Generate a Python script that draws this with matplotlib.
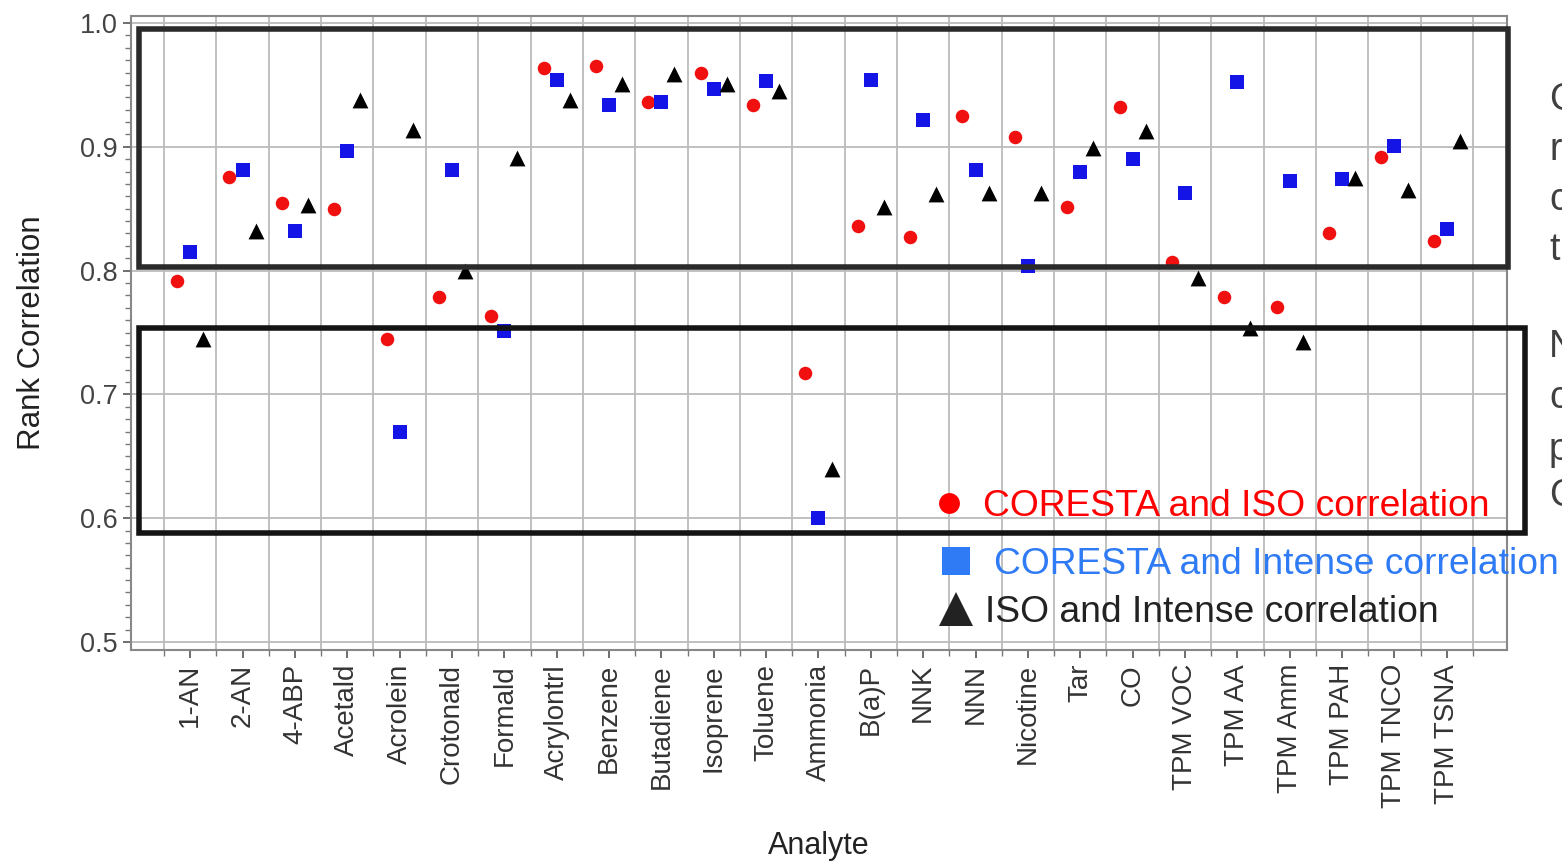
import matplotlib
matplotlib.use("Agg")
import matplotlib.pyplot as plt
from matplotlib.patches import Rectangle
from matplotlib.lines import Line2D
from matplotlib.ticker import MultipleLocator, FixedLocator
import numpy as np

plt.rcParams['font.family'] = ['Liberation Sans', 'DejaVu Sans']

analytes = ["1-AN", "2-AN", "4-ABP", "Acetald", "Acrolein", "Crotonald", "Formald",
            "Acrylontrl", "Benzene", "Butadiene", "Isoprene", "Toluene", "Ammonia",
            "B(a)P", "NNK", "NNN", "Nicotine", "Tar", "CO", "TPM VOC", "TPM AA",
            "TPM Amm", "TPM PAH", "TPM TNCO", "TPM TSNA"]

coresta_iso = [0.792, 0.876, 0.855, 0.850, 0.745, 0.779, 0.763, 0.964, 0.965, 0.936,
               0.960, 0.934, 0.717, 0.836, 0.827, 0.925, 0.908, 0.851, 0.932, 0.807,
               0.779, 0.771, 0.830, 0.892, 0.824]
coresta_intense = [0.815, 0.881, 0.832, 0.897, 0.670, 0.881, 0.751, 0.954, 0.934, 0.936,
                   0.947, 0.953, 0.600, 0.954, 0.922, 0.881, 0.804, 0.880, 0.890, 0.863,
                   0.952, 0.872, 0.874, 0.901, 0.834]
iso_intense = [0.745, 0.832, 0.853, 0.938, 0.914, 0.800, 0.891, 0.938, 0.951, 0.959,
               0.951, 0.945, 0.640, 0.851, 0.862, 0.863, 0.863, 0.899, 0.913, 0.794,
               0.754, 0.742, 0.875, 0.865, 0.905]

legend_labels = ["CORESTA and ISO correlation", "CORESTA and Intense correlation",
                 "ISO and Intense correlation"]

fig = plt.figure(figsize=(15.62, 8.61), dpi=100)
ax = fig.add_axes([131/1562, 1-650/861, (1507-131)/1562, (650-16)/861])

x = np.arange(len(analytes))
ax.scatter(x - 0.25, coresta_iso, marker='o', s=95, color='#F01010', zorder=3, linewidths=0)
ax.scatter(x, coresta_intense, marker='s', s=95, color='#1414E6', zorder=3, linewidths=0)
ax.scatter(x + 0.25, iso_intense, marker='^', s=130, color='black', zorder=3, linewidths=0)

ax.set_xlim(-1.13, 25.15)
ax.set_ylim(0.4935, 1.0057)

ax.set_xticks(x)
ax.set_xticklabels(analytes, rotation=90, fontsize=20, color='#333333')
ax.xaxis.set_minor_locator(FixedLocator(np.arange(-0.5, 25.0, 1.0)))
ax.set_yticks([0.5, 0.6, 0.7, 0.8, 0.9, 1.0])
ax.set_yticklabels(["0.5", "0.6", "0.7", "0.8", "0.9", "1.0"], fontsize=19.5, color='#444444')
ax.yaxis.set_minor_locator(MultipleLocator(0.01))
ax.tick_params(axis='both', which='major', direction='out', length=6, width=1.2, color='#555555')
ax.tick_params(axis='both', which='minor', direction='out', length=4, width=1.0, color='#777777')
ax.tick_params(axis='x', which='major', pad=4)

for v in np.arange(-0.5, 25.0, 1.0):
    ax.axvline(v, color='#bbbbbb', lw=1.3, zorder=1)
for v in [0.5, 0.6, 0.7, 0.8, 0.9, 1.0]:
    ax.axhline(v, color='#bbbbbb', lw=1.3, zorder=1)

for sp in ax.spines.values():
    sp.set_color('#888888')
    sp.set_linewidth(1.5)

ax.set_ylabel("Rank Correlation", fontsize=22.5, color='#222222', labelpad=24)
ax.set_xlabel("Analyte", fontsize=22, color='#222222')
ax.xaxis.set_label_coords(0.5, -(831 - 650) / 634)

# highlight boxes
ax.add_patch(Rectangle((-0.975, 0.803), 26.135, 0.192, fill=False, lw=4,
                       edgecolor='#2a2a2a', zorder=4, clip_on=False))
ax.add_patch(Rectangle((-0.975, 0.588), 26.46, 0.166, fill=False, lw=4,
                       edgecolor='#141414', zorder=4, clip_on=False))

# custom legend
legend_colors = ['#FF0000', '#2F7BF5', '#222222']
legend_markers = ['o', 's', '^']
legend_msizes = [15, 20, 24]
legend_xy = [(949, 503), (956, 561), (956, 609)]
text_x = [983, 994, 985]
for lab, col, mk, ms, (mx, my), tx in zip(legend_labels, legend_colors, legend_markers,
                                          legend_msizes, legend_xy, text_x):
    fig.add_artist(Line2D([mx/1562], [1-my/861], marker=mk, markersize=ms, color=col,
                          markeredgewidth=0, linestyle='none', transform=fig.transFigure))
    fig.text(tx/1562, 1-(my+3)/861, lab, color=col, fontsize=26.8, va='center', ha='left')

# cut-off side text fragments (as in the reference, running off the right edge)
for ch, yy in zip(["C", "r", "c", "t"], [100, 150, 200, 250]):
    fig.text(1549/1562, 1-yy/861, ch, color='#404040', fontsize=27, va='center', ha='left')
for ch, yy in zip(["N", "c", "p", "C"], [347, 398, 450, 496]):
    fig.text(1549/1562, 1-yy/861, ch, color='#404040', fontsize=27, va='center', ha='left')

fig.savefig("out.png", dpi=100)
